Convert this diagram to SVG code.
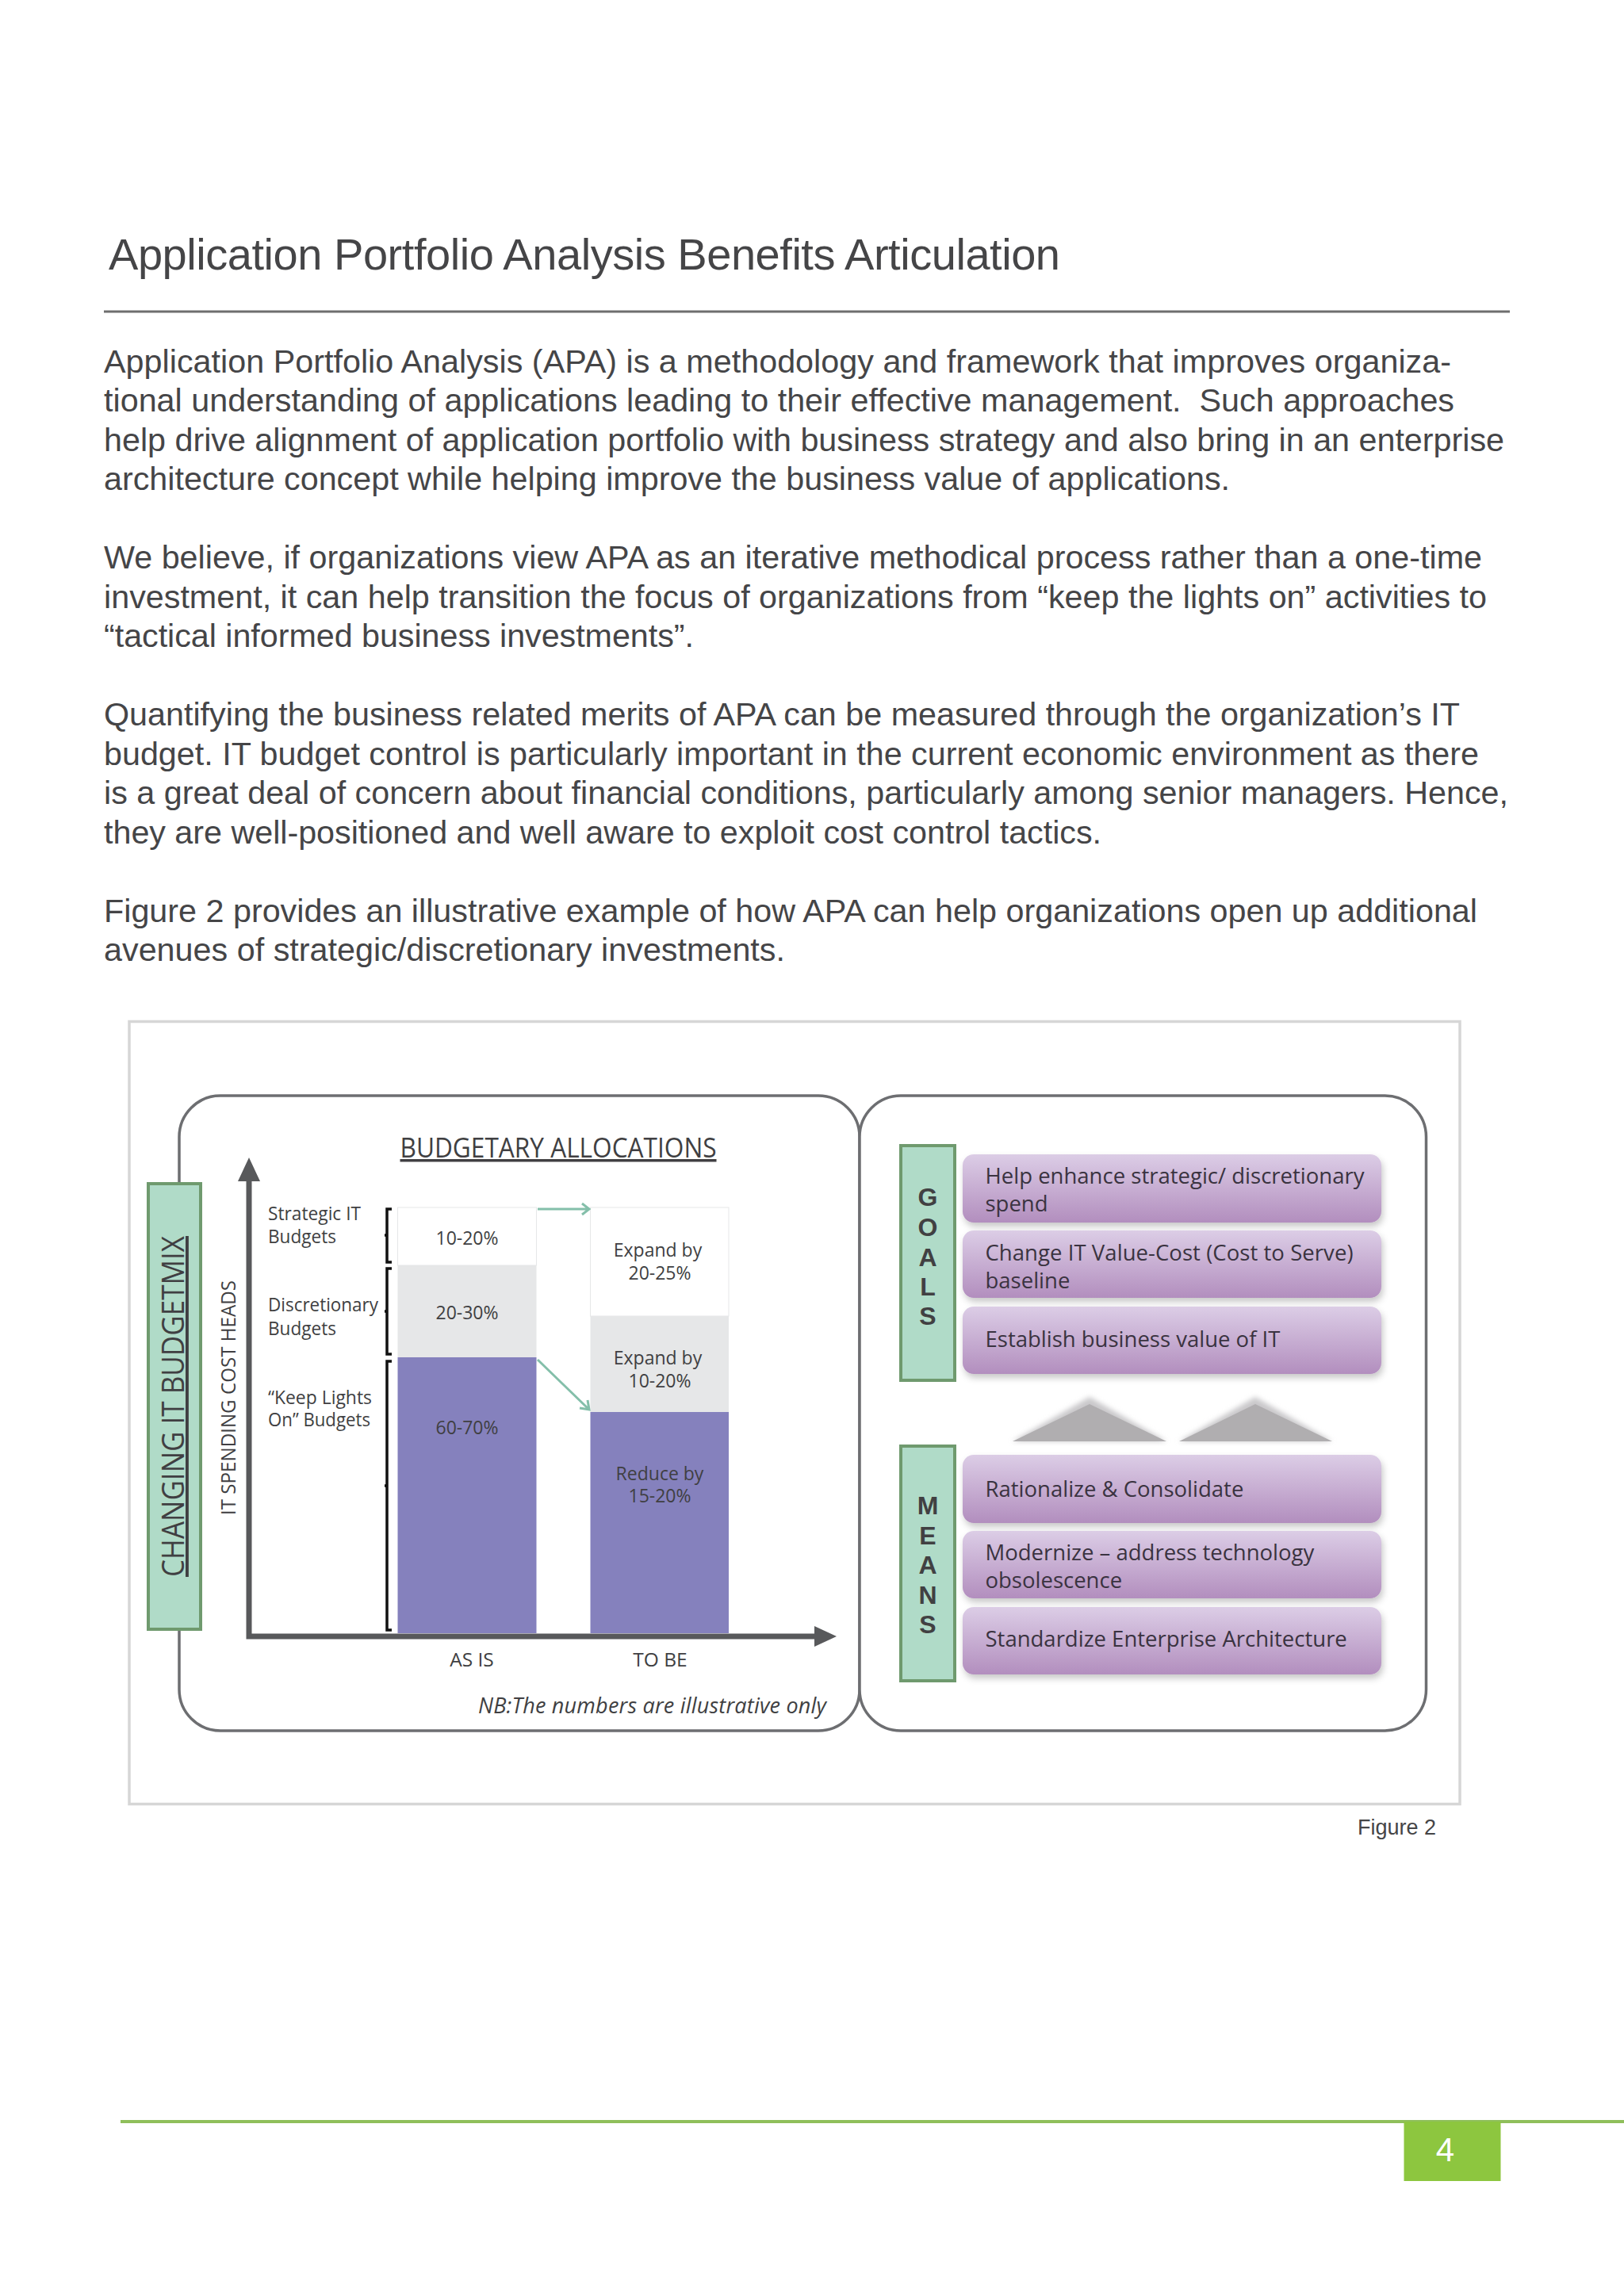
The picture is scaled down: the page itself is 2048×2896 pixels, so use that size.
<svg xmlns="http://www.w3.org/2000/svg" width="2048" height="2896" viewBox="0 0 2048 2896">
<style>
.h{font-family:"Liberation Sans",Arial,sans-serif;fill:#454547}
.b{font-size:41.3px;white-space:pre}
.m{font-family:"Open Sans","Noto Sans",sans-serif;fill:#403f42}
.s{font-size:23px}
.x{font-size:24.5px}
.c{text-anchor:middle}
.p{font-size:27.5px;fill:#3a3340}
.l{font-family:"Liberation Sans",Arial,sans-serif;font-size:32px;font-weight:700;text-anchor:middle;fill:#414042}
.panel{fill:url(#pg);filter:url(#sh)}
.tag{fill:#b0dbc8;stroke:#6f9a6e;stroke-width:4}
.box{fill:#fff;stroke:#6d6e71;stroke-width:3.5}
.teal{fill:none;stroke:#84bfaa;stroke-width:3}
.brk{fill:none;stroke:#111;stroke-width:3.5}
</style>
<defs>
<linearGradient id="pg" x1="0" y1="0" x2="0" y2="1"><stop offset="0" stop-color="#dccde6"/><stop offset="1" stop-color="#b28ebe"/></linearGradient>
<filter id="sh" x="-5%" y="-20%" width="110%" height="145%"><feDropShadow dx="2" dy="5" stdDeviation="4" flood-color="#000" flood-opacity=".22"/></filter>
<filter id="soft" x="-10%" y="-30%" width="120%" height="140%"><feGaussianBlur stdDeviation="3"/></filter>
</defs>
<rect width="2048" height="2896" fill="#fff"/>
<g id="page-text">
<text class="h" x="137" y="340" font-size="56" textLength="1200">Application Portfolio Analysis Benefits Articulation</text>
<rect x="131" y="391.500" width="1773" height="3" fill="#6e6e6e"/>
<g class="h b">
<text x="131" y="470" textLength="1699">Application Portfolio Analysis (APA) is a methodology and framework that improves organiza-</text>
<text x="131" y="519" textLength="1703" xml:space="preserve">tional understanding of applications leading to their effective management.  Such approaches</text>
<text x="131" y="569" textLength="1766">help drive alignment of application portfolio with business strategy and also bring in an enterprise</text>
<text x="131" y="618" textLength="1420">architecture concept while helping improve the business value of applications.</text>
<text x="131" y="717" textLength="1738">We believe, if organizations view APA as an iterative methodical process rather than a one-time</text>
<text x="131" y="767" textLength="1744">investment, it can help transition the focus of organizations from “keep the lights on” activities to</text>
<text x="131" y="816" textLength="744">“tactical informed business investments”.</text>
<text x="131" y="915" textLength="1710">Quantifying the business related merits of APA can be measured through the organization’s IT</text>
<text x="131" y="965" textLength="1734">budget. IT budget control is particularly important in the current economic environment as there</text>
<text x="131" y="1014" textLength="1771">is a great deal of concern about financial conditions, particularly among senior managers. Hence,</text>
<text x="131" y="1064" textLength="1258">they are well-positioned and well aware to exploit cost control tactics.</text>
<text x="131" y="1163" textLength="1732">Figure 2 provides an illustrative example of how APA can help organizations open up additional</text>
<text x="131" y="1212" textLength="859">avenues of strategic/discretionary investments.</text>
</g>
</g>
<rect id="frame" x="163" y="1288.500" width="1678" height="987" fill="#fff" stroke="#d6d6d6" stroke-width="3.500"/>
<g id="left-panel"><rect class="box" x="226" y="1382" width="858" height="801" rx="52"/></g>
<g id="right-panel"><rect class="box" x="1084" y="1382" width="714.500" height="801" rx="52"/></g>
<g id="changing-tag"><rect class="tag" x="187" y="1493" width="66" height="562"/>
<text class="m" transform="translate(232,1989) rotate(-90)" font-size="39" textLength="430" lengthAdjust="spacingAndGlyphs" text-decoration="underline">CHANGING IT BUDGETMIX</text></g>
<g id="title"><text class="m" x="504.500" y="1460" font-size="34.500" textLength="399" lengthAdjust="spacingAndGlyphs" text-decoration="underline">BUDGETARY ALLOCATIONS</text></g>
<g id="y-label"><text class="m" transform="translate(297,1911) rotate(-90)" font-size="25.500" textLength="296" lengthAdjust="spacingAndGlyphs">IT SPENDING COST HEADS</text></g>
<g id="as-is">
<rect x="501.500" y="1523" width="175" height="73" fill="#fff" stroke="#e6e7e8" stroke-width="1"/>
<rect x="501.500" y="1596" width="175" height="116" fill="#e6e7e8"/>
<rect x="501.500" y="1712" width="175" height="348" fill="#8581bd"/>
<text class="m s c" x="589" y="1570">10-20%</text>
<text class="m s c" x="589" y="1664">20-30%</text>
<text class="m s c" x="589" y="1809">60-70%</text>
<text class="m x c" x="595" y="2102">AS IS</text>
</g>
<g id="to-be">
<rect x="744.500" y="1523" width="174.500" height="137" fill="#fff" stroke="#e6e7e8" stroke-width="1"/>
<rect x="744.500" y="1660" width="174.500" height="121" fill="#e6e7e8"/>
<rect x="744.500" y="1781" width="174.500" height="279" fill="#8581bd"/>
<text class="m s c" x="829.500" y="1585">Expand by</text><text class="m s c" x="832" y="1614">20-25%</text>
<text class="m s c" x="829.500" y="1721">Expand by</text><text class="m s c" x="832" y="1750">10-20%</text>
<text class="m s c" x="832" y="1867">Reduce by</text><text class="m s c" x="832" y="1895">15-20%</text>
<text class="m x c" x="832.500" y="2102">TO BE</text>
</g>
<g id="budget-labels">
<text class="m s" x="338" y="1539" textLength="117" lengthAdjust="spacingAndGlyphs">Strategic IT</text><text class="m s" x="338" y="1568" textLength="86" lengthAdjust="spacingAndGlyphs">Budgets</text>
<text class="m s" x="338" y="1654" textLength="139" lengthAdjust="spacingAndGlyphs">Discretionary</text><text class="m s" x="338" y="1684" textLength="86" lengthAdjust="spacingAndGlyphs">Budgets</text>
<text class="m s" x="338" y="1771" textLength="131" lengthAdjust="spacingAndGlyphs">“Keep Lights</text><text class="m s" x="338" y="1799" textLength="129" lengthAdjust="spacingAndGlyphs">On” Budgets</text>
<path class="brk" d="M494 1525H488V1592H494M488 1558H485"/>
<path class="brk" d="M494 1600H488V1708H494M488 1654H485"/>
<path class="brk" d="M494 1717H488V2056H494M488 1874H485"/>
</g>
<g id="note"><text class="m" x="603" y="2161" font-size="27" font-style="italic" textLength="439">NB:The numbers are illustrative only</text></g>
<g id="connectors">
<path fill="none" stroke="#58595b" stroke-width="7" d="M314 1485V2064H1030"/>
<path fill="#58595b" d="M314 1460L328 1490H300Z"/>
<path fill="#58595b" d="M1055 2064L1027 2051V2077Z"/>
<path class="teal" d="M678 1525H743M734 1518L743 1525L734 1532"/>
<path class="teal" d="M678 1715L743 1778M741 1766L743 1778L731 1776"/>
</g>
<g id="goals"><rect class="tag" x="1136" y="1445" width="68" height="296"/>
<text class="l"><tspan x="1170" y="1521">G</tspan><tspan x="1170" y="1559">O</tspan><tspan x="1170" y="1597">A</tspan><tspan x="1170" y="1634">L</tspan><tspan x="1170" y="1671">S</tspan></text></g>
<g id="means"><rect class="tag" x="1136" y="1824" width="68" height="296"/>
<text class="l"><tspan x="1170" y="1910">M</tspan><tspan x="1170" y="1948">E</tspan><tspan x="1170" y="1985">A</tspan><tspan x="1170" y="2023">N</tspan><tspan x="1170" y="2060">S</tspan></text></g>
<g id="goal-1"><rect class="panel" x="1214" y="1456" width="528" height="86" rx="14"/><text class="m p"><tspan x="1242.500" y="1493" textLength="478">Help enhance strategic/ discretionary</tspan><tspan x="1242.500" y="1528">spend</tspan></text></g>
<g id="goal-2"><rect class="panel" x="1214" y="1552" width="528" height="85" rx="14"/><text class="m p"><tspan x="1242.500" y="1590" textLength="464">Change IT Value-Cost (Cost to Serve)</tspan><tspan x="1242.500" y="1625">baseline</tspan></text></g>
<g id="goal-3"><rect class="panel" x="1214" y="1648" width="528" height="85" rx="14"/><text class="m p" x="1242.500" y="1699">Establish business value of IT</text></g>
<g id="means-1"><rect class="panel" x="1214" y="1835" width="528" height="86" rx="14"/><text class="m p" x="1242.500" y="1888">Rationalize &amp; Consolidate</text></g>
<g id="means-2"><rect class="panel" x="1214" y="1931" width="528" height="85" rx="14"/><text class="m p"><tspan x="1242.500" y="1968">Modernize – address technology</tspan><tspan x="1242.500" y="2003">obsolescence</tspan></text></g>
<g id="means-3"><rect class="panel" x="1214" y="2027" width="528" height="85" rx="14"/><text class="m p" x="1242.500" y="2077">Standardize Enterprise Architecture</text></g>
<g id="up-arrows">
<path d="M1277 1818L1374 1762L1471 1818Z" fill="#c9c8ca" filter="url(#soft)"/>
<path d="M1487 1818L1583 1762L1680 1818Z" fill="#c9c8ca" filter="url(#soft)"/>
<path d="M1277 1818L1374 1771L1471 1818Z" fill="#b0aeb0"/>
<path d="M1487 1818L1583 1771L1680 1818Z" fill="#b0aeb0"/>
</g>
<g id="caption"><text class="h" x="1712" y="2314" font-size="27">Figure 2</text></g>
<g id="footer">
<rect x="152" y="2674" width="1896" height="4" fill="#8fbf5b"/>
<rect x="1770.500" y="2676" width="122" height="75" fill="#8dc63f"/>
<text x="1822.500" y="2726" font-family="Liberation Sans,Arial,sans-serif" font-size="42" fill="#fff" text-anchor="middle">4</text>
</g>
</svg>
